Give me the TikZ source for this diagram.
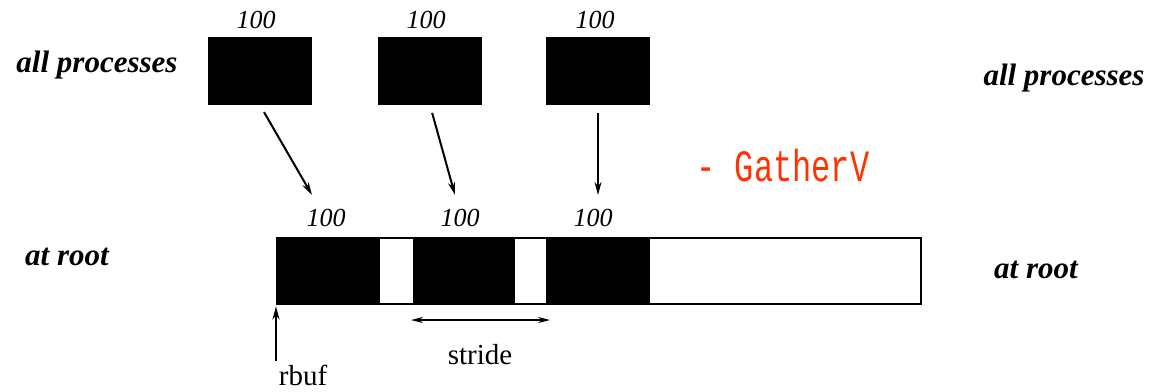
\documentclass[tikz,border=0pt]{standalone}
\usepackage{fontspec}
\setmainfont{Liberation Serif}
\newfontfamily\gvfont{Liberation Mono}
\usetikzlibrary{arrows, arrows.meta, positioning}
\definecolor{gvred}{RGB}{255,51,0}

\begin{document}
\begin{tikzpicture}[x=1pt, y=-1pt,
  blk/.style={fill=black, inner sep=0pt, minimum width=104pt, minimum height=68pt},
  seg/.style={fill=black, inner sep=0pt, anchor=north west, minimum height=66pt, minimum width=#1},
  cnt/.style={font=\fontsize{26}{26}\selectfont\itshape},
  side/.style={font=\fontsize{31}{31}\selectfont\bfseries\itshape},
  txt/.style={font=\fontsize{29}{29}\selectfont},
  arr/.style={-{Stealth[length=13pt, width=7pt]}, line width=2pt}]
\useasboundingbox (0,0) rectangle (1167,391);

% sending processes
\node[blk] (b1) at (260,71) {};
\node[blk] (b2) at (430,71) {};
\node[blk] (b3) at (598,71) {};
\node[cnt] (t1) at (256,20) {100};
\node[cnt] (t2) at (426,20) {100};
\node[cnt] (t3) at (595,20) {100};
\node[side] (apl) at (97,65) {all processes};
\node[side] (apr) at (1064,78) {all processes};

% receive buffer at root
\node[seg=104pt] (r1) at (276,237) {};
\node[seg=102pt] (r2) at (413,237) {};
\node[seg=104pt] (r3) at (546,237) {};
\node[draw, line width=1.5pt, inner sep=0pt, anchor=north west, minimum width=644pt, minimum height=66pt] (bar) at (276,237) {};
\node[cnt] (l1) at (326,218) {100};
\node[cnt] (l2) at (460,218) {100};
\node[cnt] (l3) at (593,218) {100};
\node[side] (arl) at (67,257) {at root};
\node[side] (arr) at (1036,270) {at root};

\coordinate (e1) at (312,195);
\coordinate (e2) at (455,195);
\coordinate (e3) at (598,195);
\draw[arr, shorten <=8pt] (b1.south) -- (e1);
\draw[arr, shorten <=8pt] (b2.south) -- (e2);
\draw[arr, line width=1.2pt, shorten <=8pt] (b3.south) -- (e3);

\node[txt] (rb) at (303,375) {rbuf};
\draw[arr, shorten >=2pt] (bar.south west |- rb.north) -- (bar.south west);
\node[txt] (st) at (480,355) {stride};
\coordinate (s1) at (411,320);
\coordinate (s2) at (550,320);
\draw[{Stealth[length=12pt, width=6pt]}-{Stealth[length=12pt, width=6pt]}, line width=1.6pt] (s1) -- (s2);

\node[text=gvred, font=\fontsize{32}{32}\selectfont\gvfont] (gv) at (783,165) {\scalebox{1}[1.4]{- GatherV}};
\end{tikzpicture}
\end{document}
